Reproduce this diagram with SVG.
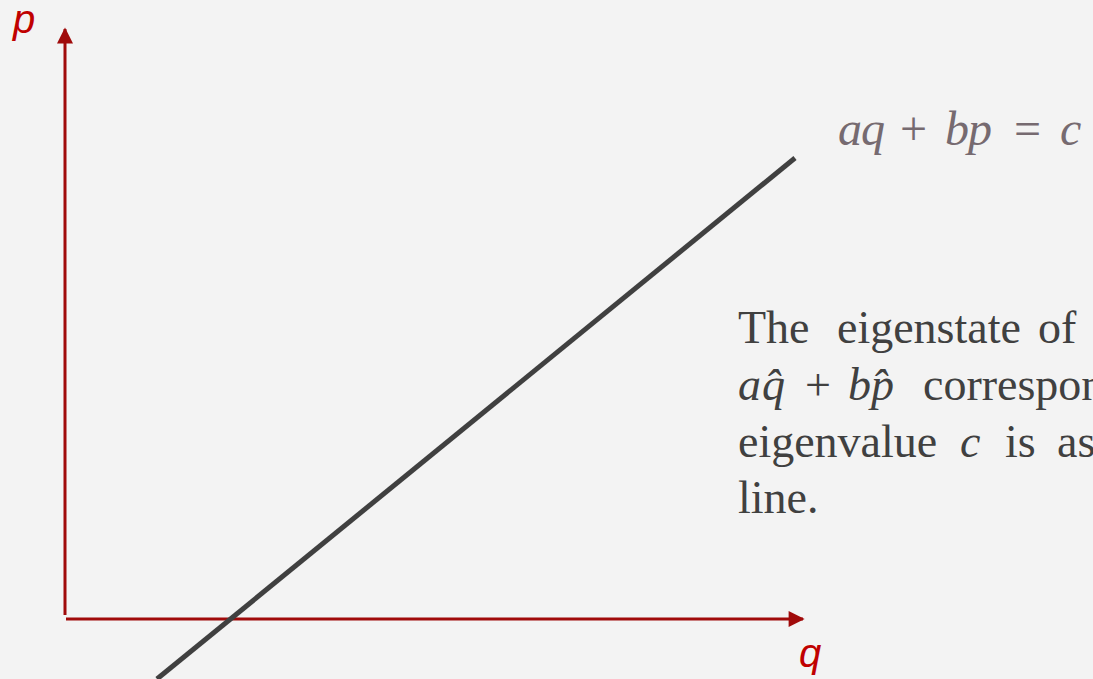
<svg xmlns="http://www.w3.org/2000/svg" width="1093" height="679" viewBox="0 0 1093 679">
  <style>
    .axis { stroke: #A00A0A; stroke-width: 3; fill: none; }
    .lbl { font-family: "Liberation Sans", Arial, sans-serif; font-style: italic; font-size: 40px; fill: #C00000; }
    .body { font-family: "Liberation Serif", "Times New Roman", serif; font-size: 46px; fill: #404040; }
    .math { font-family: "Liberation Serif", "DejaVu Serif", serif; font-style: italic; }
    .eq { font-family: "Liberation Serif", "DejaVu Serif", serif; font-style: italic; font-size: 48px; fill: #766A70; }
    .op { font-style: normal; }
  </style>
  <defs>
    <marker id="arr" viewBox="0 0 10 10" refX="9" refY="5" markerWidth="17" markerHeight="16" markerUnits="userSpaceOnUse" orient="auto">
      <path d="M0,0 L10,5 L0,10 Z" fill="#A00A0A"/>
    </marker>
  </defs>
  <rect x="0" y="0" width="1093" height="679" fill="#F3F3F3"/>
  <g id="connectors">
    <line class="axis" x1="65" y1="615" x2="65" y2="29" marker-end="url(#arr)"/>
    <line class="axis" x1="66" y1="619" x2="803" y2="619" marker-end="url(#arr)"/>
    <line x1="157" y1="679" x2="795" y2="158" stroke="#404040" stroke-width="5"/>
  </g>
  <g id="label-p"><text class="lbl" x="13" y="33">p</text></g>
  <g id="label-q"><text class="lbl" x="799" y="667">q</text></g>
  <g id="equation"><text class="eq" y="145"><tspan x="838">a</tspan><tspan x="861">q</tspan><tspan x="900" class="op">+</tspan><tspan x="945">b</tspan><tspan x="968">p</tspan><tspan x="1014" class="op">=</tspan><tspan x="1060">c</tspan></text></g>
  <g id="description" class="body">
    <text y="343"><tspan x="738">The</tspan><tspan x="837">eigenstate</tspan><tspan x="1038">of</tspan></text>
    <text y="400"><tspan x="738" class="math">a</tspan><tspan x="762" class="math">q̂</tspan><tspan x="805">+</tspan><tspan x="848" class="math">b</tspan><tspan x="871" class="math">p̂</tspan><tspan x="923">corresponding</tspan></text>
    <text y="457"><tspan x="738">eigenvalue</tspan><tspan x="960" class="math">c</tspan><tspan x="1005">is</tspan><tspan x="1057">associated</tspan></text>
    <text y="513"><tspan x="738">line.</tspan></text>
  </g>
</svg>
